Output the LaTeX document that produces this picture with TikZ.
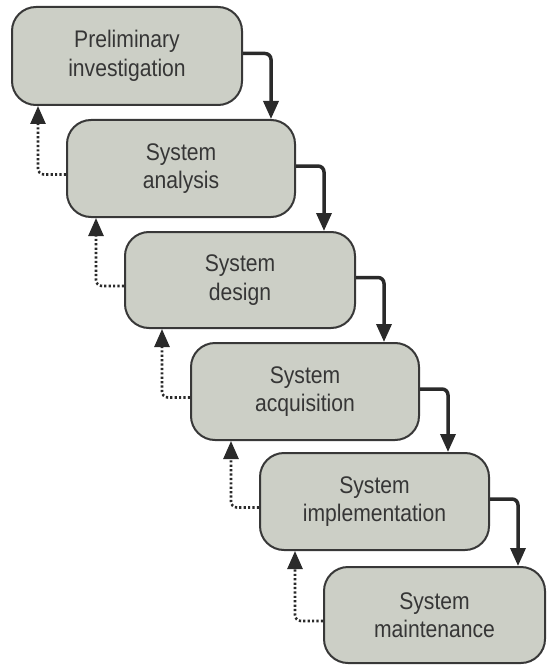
\documentclass[tikz,border=0pt]{standalone}
\usepackage{fontspec}
\setmainfont[FakeStretch=0.88]{Liberation Sans}
\usetikzlibrary{arrows.meta}
\definecolor{boxfill}{HTML}{CCCFC6}
\definecolor{boxline}{HTML}{383838}
\definecolor{txt}{HTML}{363636}
\definecolor{arr}{HTML}{2A2A2A}
\tikzset{
  phase/.style={draw=boxline, line width=2pt, fill=boxfill, rounded corners=24pt,
    align=center, text=txt, inner sep=0pt, font=\fontsize{24}{28.5}\selectfont},
  flow/.style={draw=arr, line width=3.5pt, rounded corners=6pt,
    -{Triangle[length=18pt,width=15pt]}},
  back/.style={draw=arr, line width=2.6pt, dash pattern=on 2.2pt off 2.2pt, rounded corners=6pt,
    -{Triangle[length=18pt,width=15pt]}}
}
\begin{document}
\begin{tikzpicture}[x=1pt,y=-1pt]
\useasboundingbox (0,0) rectangle (547,666);
\node[phase, minimum width=230pt, minimum height=98pt] (b1) at (127,56) {Preliminary\\investigation};
\node[phase, minimum width=228pt, minimum height=97pt] (b2) at (181,168.5) {System\\analysis};
\node[phase, minimum width=230pt, minimum height=96pt] (b3) at (240,280) {System\\design};
\node[phase, minimum width=228pt, minimum height=97pt] (b4) at (305,391.5) {System\\acquisition};
\node[phase, minimum width=229pt, minimum height=97pt] (b5) at (374.5,501.5) {System\\implementation};
\node[phase, minimum width=221pt, minimum height=96pt] (b6) at (434.5,615) {System\\maintenance};
\foreach \a/\b in {b1/b2,b2/b3,b3/b4,b4/b5,b5/b6}{
  \coordinate (s\a) at ([xshift=28pt]\a.east);
  \draw[flow] ([yshift=2.5pt]\a.east) -| (s\a |- \b.north);
  \coordinate (d\b) at ([xshift=-28pt]\b.west);
  \draw[back] ([yshift=-6pt]\b.west) -| (d\b |- \a.south);
}
\end{tikzpicture}
\end{document}
